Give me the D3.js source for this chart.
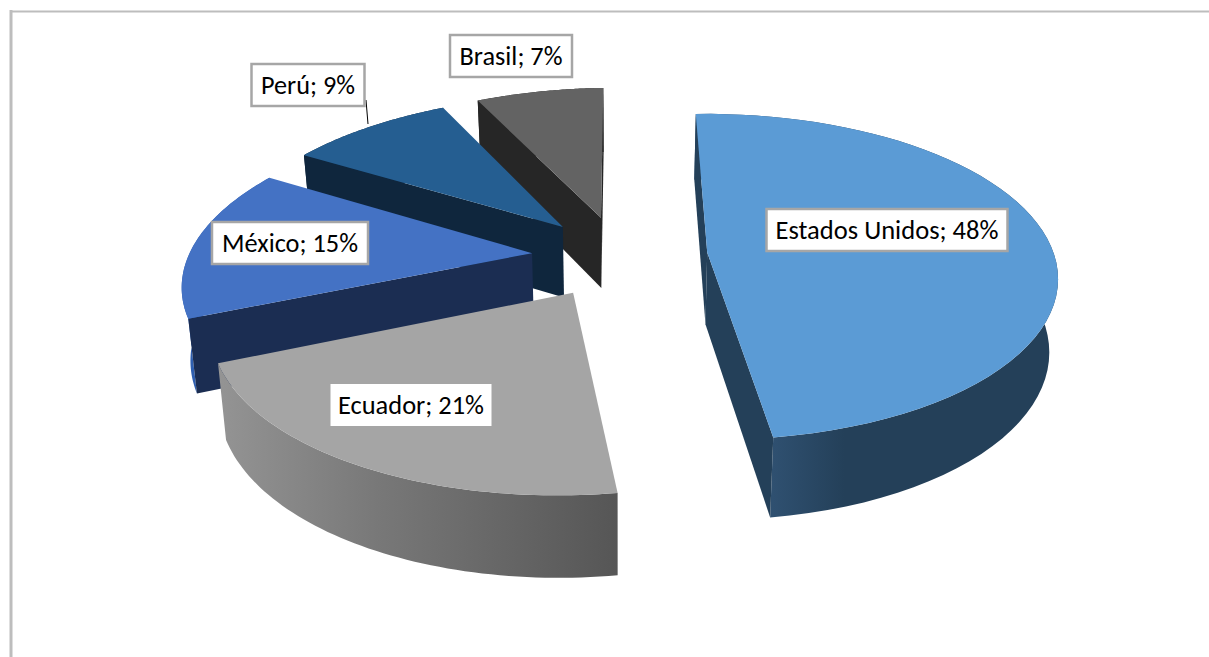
<!DOCTYPE html>
<html lang="es">
<head>
<meta charset="utf-8">
<script src="https://cdn.jsdelivr.net/npm/d3@7/dist/d3.min.js"></script>
<style>
html,body{margin:0;padding:0;background:#fff;overflow:hidden}
svg{display:block}
text{font-family:Carlito,Lato,"Open Sans",sans-serif;fill:#000}
</style>
</head>
<body>
<svg id="chart" width="1209" height="657"></svg>
<script>
// ---- data ----
const categories = ["Estados Unidos", "Ecuador", "México", "Perú", "Brasil"];
const shares = [48, 21, 15, 9, 7];

// ---- colours ----
const topColors = ["#5b9bd5", "#a5a5a5", "#4472c4", "#255e91", "#636363"];
const cutColors = ["#244059", "#6e6e6e", "#1b2d52", "#0f263d", "#262626"];
const wallStops = [
  [["0", "#2f5070"], ["0.25", "#244059"], ["1", "#244059"]],
  [["0", "#949494"], ["0.4", "#787878"], ["1", "#565656"]],
  [["0", "#2f5fb0"], ["1", "#2f5fb0"]],
  [["0", "#0f263d"], ["1", "#0f263d"]],
  [["0", "#262626"], ["1", "#262626"]]
];

// ---- label layout (box centre, box size, text width) ----
const labelCx = [887, 411, 290, 308, 511];
const labelCy = [230, 405, 243, 85, 56];
const labelW  = [241, 161, 156, 113, 122];
const labelTextW = [223, 146, 136, 94, 103];
const labelBorder = [true, false, true, true, true];

// ---- projection parameters ----
const W = 1209, H = 657;
const cx = 619.5, cy = 256;
const radius = 345.5;      // px per pie unit across
const tiltR = 160;         // px per pie unit in depth
const persp = 0.15;        // perspective strength
const skew = 4;            // px of vertical lean per pie unit across
const explode = 0.255;     // pie units
const depthPx = 72;        // thickness at the mid plane
const depthPow = 0.67;     // thickness growth towards the viewer
const depthShrink = 0.98;  // bottom rim narrowing

const svg = d3.select("#chart");
const defs = svg.append("defs");

const border = svg.append("g");
border.append("line").attr("x1", 11).attr("x2", 11).attr("y1", 10).attr("y2", H)
  .attr("stroke", "#bdbdbd").attr("stroke-width", 3);
border.append("line").attr("x1", 10).attr("x2", W).attr("y1", 11.5).attr("y2", 11.5)
  .attr("stroke", "#bdbdbd").attr("stroke-width", 2);

const pie = d3.pie().sort(null).startAngle(0).endAngle(2 * Math.PI);
const arcs = pie(shares);

function project(X, Y, bottom) {
  const w = 1 - persp * Y;
  const k = bottom ? depthShrink : 1;
  return [
    cx + radius * X / w * k,
    cy + tiltR * Y / w - skew * X + (bottom ? depthPx / Math.pow(w, depthPow) : 0)
  ];
}
const line = d3.line();

const slices = arcs.map((a, i) => {
  const mid = (a.startAngle + a.endAngle) / 2;
  const ox = explode * Math.sin(mid), oy = -explode * Math.cos(mid);
  const steps = d3.range(0, 61).map(s => a.startAngle + (a.endAngle - a.startAngle) * s / 60);
  const rim = steps.map(t => [ox + Math.sin(t), oy - Math.cos(t)]);
  return {i, ox, oy, rim};
});

// A cut face shows when the rest of the slice lies above its top edge on screen.
function facesViewer(apex, edgeEnd, other) {
  const slope = (edgeEnd[1] - apex[1]) / (edgeEnd[0] - apex[0]);
  return other[1] < apex[1] + slope * (other[0] - apex[0]);
}

// draw back to front
const order = d3.range(slices.length).reverse();
const g = svg.append("g");
order.forEach(i => {
  const s = slices[i];
  const topRim = s.rim.map(p => project(p[0], p[1], false));
  const botRim = s.rim.map(p => project(p[0], p[1], true));
  const apexT = project(s.ox, s.oy, false), apexB = project(s.ox, s.oy, true);
  const n = topRim.length - 1;

  const sl = g.append("g").attr("class", "slice").attr("data-name", categories[i]);

  // outer wall
  const xs = topRim.filter(p => p[1] > cy - 10).map(p => p[0]);
  const gid = "wall" + i;
  const grad = defs.append("linearGradient").attr("id", gid)
    .attr("gradientUnits", "userSpaceOnUse")
    .attr("x1", d3.min(xs)).attr("x2", d3.max(xs)).attr("y1", 0).attr("y2", 0);
  wallStops[i].forEach(st => grad.append("stop").attr("offset", st[0]).attr("stop-color", st[1]));
  sl.append("path").attr("fill", `url(#${gid})`)
    .attr("d", line(topRim.concat(botRim.slice().reverse())) + "Z");

  // visible cut faces
  if (facesViewer(apexT, topRim[n], topRim[0])) {
    sl.append("path").attr("fill", cutColors[i])
      .attr("d", line([apexT, topRim[n], botRim[n], apexB]) + "Z");
  }
  if (facesViewer(apexT, topRim[0], topRim[n])) {
    sl.append("path").attr("fill", cutColors[i])
      .attr("d", line([apexT, topRim[0], botRim[0], apexB]) + "Z");
  }

  // top face
  sl.append("path").attr("fill", topColors[i])
    .attr("d", line([apexT].concat(topRim)) + "Z");
});

// leader line for Perú
svg.append("line").attr("x1", 366).attr("y1", 100).attr("x2", 368).attr("y2", 124)
  .attr("stroke", "#000").attr("stroke-width", 1);

// labels
const labelH = 42;
const labels = svg.append("g");
categories.forEach((c, i) => {
  const lg = labels.append("g");
  lg.append("rect")
    .attr("x", labelCx[i] - labelW[i] / 2).attr("y", labelCy[i] - labelH / 2)
    .attr("width", labelW[i]).attr("height", labelH)
    .attr("fill", "#fff")
    .attr("stroke", labelBorder[i] ? "#a6a6a6" : "none")
    .attr("stroke-width", 2.5);
  lg.append("text")
    .attr("x", labelCx[i]).attr("y", labelCy[i] + 9)
    .attr("text-anchor", "middle")
    .attr("font-size", 26)
    .attr("textLength", labelTextW[i])
    .attr("lengthAdjust", "spacingAndGlyphs")
    .text(`${c}; ${shares[i]}%`);
});
</script>
</body>
</html>
